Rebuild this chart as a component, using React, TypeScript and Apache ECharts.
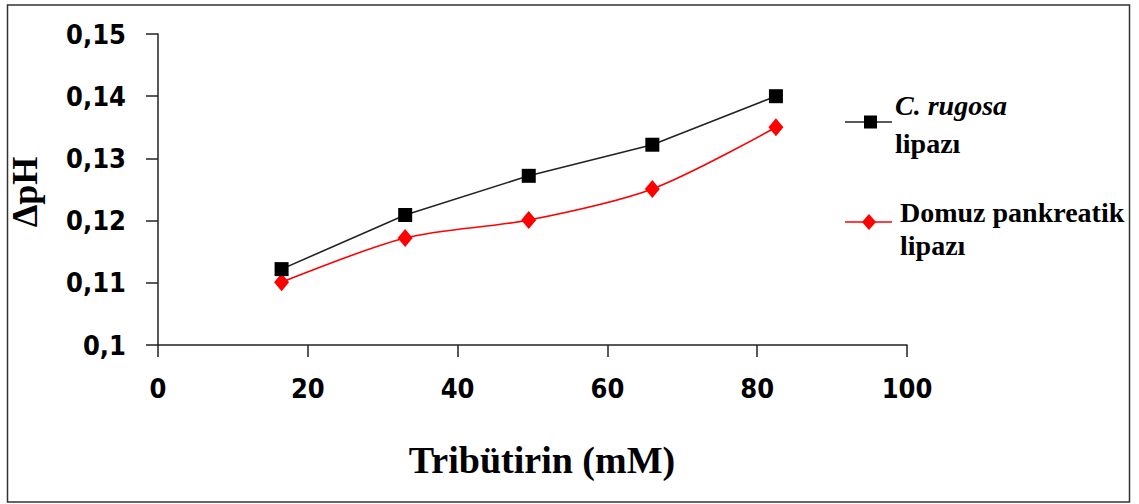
import React, { useEffect, useRef } from "react";
import * as echarts from "echarts";

const xValues = [16.5, 33, 49.5, 66, 82.5];
const rugosaValues = [0.1122, 0.1209, 0.1272, 0.1322, 0.14];
const domuzValues = [0.1101, 0.1172, 0.1201, 0.1251, 0.135];
const yTicks = { min: 0.1, max: 0.15, interval: 0.01 };
const xTicks = { min: 0, max: 100, interval: 20 };
const xTitle = "Tribütirin (mM)";
const yTitle = "ΔpH";

const tickFont = "'DejaVu Sans Condensed', 'DejaVu Sans', sans-serif";
const serif = "'Liberation Serif', 'Times New Roman', serif";

export default function App() {
  const ref = useRef<HTMLDivElement>(null);
  useEffect(() => {
    if (!ref.current) return;
    const chart = echarts.init(ref.current, null, { renderer: "svg" });
    const toPairs = (ys: number[]) => xValues.map((x, i) => [x, ys[i]]);
    chart.setOption({
      animation: false,
      backgroundColor: "#ffffff",
      grid: { left: 158, top: 34, width: 749, height: 311, containLabel: false },
      xAxis: {
        type: "value",
        min: xTicks.min,
        max: xTicks.max,
        interval: xTicks.interval,
        splitLine: { show: false },
        axisLine: { show: true, lineStyle: { color: "#222", width: 1.5 } },
        axisTick: { show: true, length: 12, lineStyle: { color: "#222", width: 1.5 } },
        axisLabel: {
          margin: 30,
          color: "#000",
          fontFamily: tickFont,
          fontWeight: "bold",
          fontSize: 27,
        },
      },
      yAxis: {
        type: "value",
        min: yTicks.min,
        max: yTicks.max,
        interval: yTicks.interval,
        splitLine: { show: false },
        axisLine: { show: true, lineStyle: { color: "#222", width: 1.5 } },
        axisTick: { show: true, length: 12, lineStyle: { color: "#222", width: 1.5 } },
        axisLabel: {
          margin: 32,
          color: "#000",
          fontFamily: tickFont,
          fontWeight: "bold",
          fontSize: 27,
          formatter: (v: number) => String(Number(v.toFixed(2))).replace(".", ","),
        },
      },
      series: [
        {
          name: "C. rugosa lipazı",
          type: "line",
          data: toPairs(rugosaValues),
          symbol: "rect",
          symbolSize: 14,
          lineStyle: { color: "#222", width: 1.6 },
          itemStyle: { color: "#000" },
          z: 3,
        },
        {
          name: "Domuz pankreatik lipazı",
          type: "line",
          data: toPairs(domuzValues),
          smooth: 0.3,
          symbol: "diamond",
          symbolSize: [15, 18],
          lineStyle: { color: "#ff0000", width: 1.6 },
          itemStyle: { color: "#ff0000" },
          z: 2,
        },
      ],
      graphic: [
        {
          type: "rect",
          shape: { x: 7.5, y: 5, width: 1122, height: 497 },
          style: { fill: "none", stroke: "#333", lineWidth: 1.5 },
          silent: true,
        },
        {
          type: "text",
          x: 25,
          y: 192,
          rotation: Math.PI / 2,
          style: {
            text: yTitle,
            fontFamily: serif,
            fontWeight: "bold",
            fontSize: 36,
            fill: "#000",
            align: "center",
            verticalAlign: "middle",
          },
        },
        {
          type: "text",
          x: 542,
          y: 460,
          style: {
            text: xTitle,
            fontFamily: serif,
            fontWeight: "bold",
            fontSize: 38,
            fill: "#000",
            align: "center",
            verticalAlign: "middle",
          },
        },
        // legend: C. rugosa
        {
          type: "line",
          shape: { x1: 845, y1: 122, x2: 892, y2: 122 },
          style: { stroke: "#222", lineWidth: 1.6 },
        },
        {
          type: "rect",
          shape: { x: 864, y: 115.5, width: 13, height: 13 },
          style: { fill: "#000" },
        },
        {
          type: "text",
          x: 895,
          y: 105,
          style: {
            text: "C. rugosa",
            fontFamily: serif,
            fontWeight: "bold",
            fontStyle: "italic",
            fontSize: 28,
            fill: "#000",
            align: "left",
            verticalAlign: "middle",
          },
        },
        {
          type: "text",
          x: 895,
          y: 143,
          style: {
            text: "lipazı",
            fontFamily: serif,
            fontWeight: "bold",
            fontSize: 28,
            fill: "#000",
            align: "left",
            verticalAlign: "middle",
          },
        },
        // legend: Domuz
        {
          type: "line",
          shape: { x1: 845, y1: 222, x2: 892, y2: 222 },
          style: { stroke: "#ff0000", lineWidth: 1.6 },
        },
        {
          type: "polygon",
          shape: { points: [[869, 214], [876, 222], [869, 230], [862, 222]] },
          style: { fill: "#ff0000" },
        },
        {
          type: "text",
          x: 900,
          y: 212,
          style: {
            text: "Domuz pankreatik",
            fontFamily: serif,
            fontWeight: "bold",
            fontSize: 28,
            fill: "#000",
            align: "left",
            verticalAlign: "middle",
          },
        },
        {
          type: "text",
          x: 900,
          y: 245,
          style: {
            text: "lipazı",
            fontFamily: serif,
            fontWeight: "bold",
            fontSize: 28,
            fill: "#000",
            align: "left",
            verticalAlign: "middle",
          },
        },
      ],
    });
    return () => chart.dispose();
  }, []);
  return (
    <div
      ref={ref}
      style={{ position: "absolute", left: 0, top: 0, width: 1139, height: 504 }}
    />
  );
}
